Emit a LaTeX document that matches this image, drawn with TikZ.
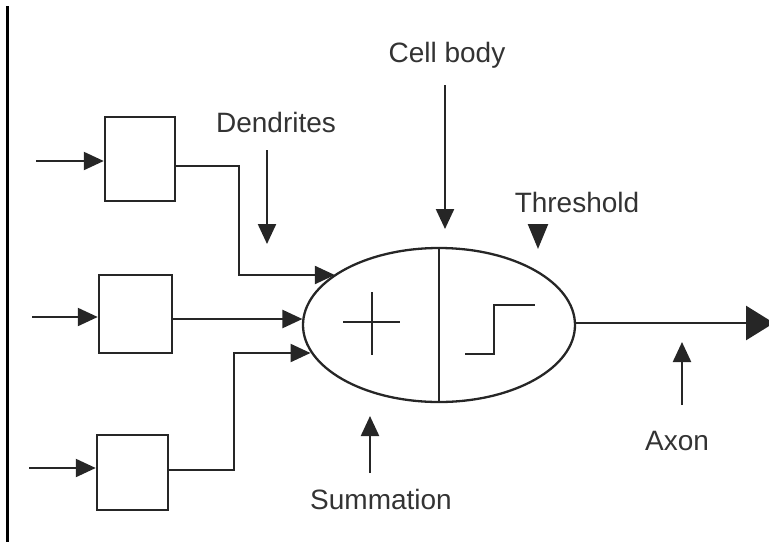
\documentclass[tikz,border=0pt]{standalone}
\usepackage{fontspec}
\setmainfont{Liberation Sans}
\usetikzlibrary{arrows.meta,shapes.geometric}
\begin{document}
\begin{tikzpicture}[x=1pt,y=-1pt,
  wire/.style={line width=2.3pt, draw=black!85},
  arr/.style={wire,-{Triangle[length=20pt,width=18pt]}},
  bigarr/.style={wire,line width=2.8pt,-{Triangle[length=28pt,width=34pt]}},
  tharr/.style={wire,-{Triangle[length=25pt,width=20pt]}},
  box/.style={draw=black!85,line width=2.5pt,rectangle,inner sep=0pt},
  lbl/.style={font=\fontsize{28}{32}\selectfont, text=black!80, inner sep=0pt, anchor=base}]
\useasboundingbox (0,0) rectangle (769,542);
\draw[line width=3pt] (7,6) -- (7,542);
% boxes
\node[box, minimum width=70pt, minimum height=84pt] (b1) at (140,159) {};
\node[box, minimum width=73pt, minimum height=78pt] (b2) at (135.5,314) {};
\node[box, minimum width=71pt, minimum height=75pt] (b3) at (132.5,472.5) {};
% cell body
\node[draw=black!85, line width=2.3pt, ellipse, minimum width=272pt, minimum height=154pt, inner sep=0pt] (cell) at (439,325) {};
\draw[wire] (cell.north) -- (cell.south);
\draw[wire, line width=1.6pt] (343,322) -- (400,322) (372,292) -- (372,355);
\draw[wire] (465,354) -- (494,354) -- (494,305) -- (535,305);
% inputs
\coordinate (i1) at (36,161);
\coordinate (i2) at (32,317);
\coordinate (i3) at (29,468);
\draw[arr] (i1) -- (b1.west |- i1);
\draw[arr] (i2) -- (b2.west |- i2);
\draw[arr] (i3) -- (b3.west |- i3);
% dendrite connectors
\coordinate (k1) at (239,275);
\coordinate (k3) at (234,353);
\coordinate (o1) at ([yshift=-7pt]b1.east);
\coordinate (o2) at ([yshift=-5pt]b2.east);
\coordinate (o3) at ([yshift=2.5pt]b3.east);
\draw[arr] (o1) -| (k1) -- (cell.154.3 |- k1);
\draw[arr] (o2) -- (cell.177.5 |- o2);
\draw[arr] (o3) -| (k3) -- (cell.192.4 |- k3);
% axon
\coordinate (axend) at (774,323);
\draw[bigarr] (cell.east |- axend) -- (axend);
% labels
\node[lbl] (dend) at (276,132) {Dendrites};
\coordinate (d0) at (267,150); \coordinate (d1) at (267,244);
\draw[arr] (d0) -- (d1);
\node[lbl] (cb) at (447,62) {Cell body};
\coordinate (c0) at (445,85); \coordinate (c1) at (445,229);
\draw[arr] (c0) -- (c1);
\node[lbl] (th) at (577,212) {Threshold};
\coordinate (t0) at (538,224); \coordinate (t1) at (538,249);
\draw[tharr] (t0) -- (t1);
\node[lbl] (ax) at (677,450) {Axon};
\coordinate (a0) at (682,405); \coordinate (a1) at (682,342);
\draw[arr] (a0) -- (a1);
\node[lbl] (sum) at (381,509) {Summation};
\coordinate (s0) at (370,473); \coordinate (s1) at (370,416);
\draw[arr] (s0) -- (s1);
\end{tikzpicture}
\end{document}
